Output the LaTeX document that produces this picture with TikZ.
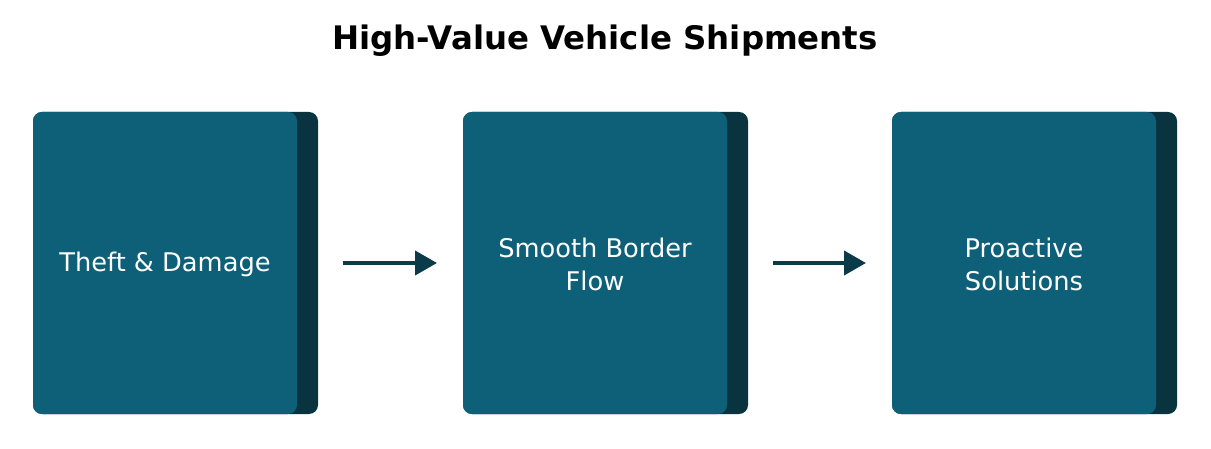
\documentclass[tikz,border=0pt]{standalone}
\usepackage{fontspec}
\setmainfont{DejaVu Sans}
\newfontfamily\titlefont{DejaVu Sans}
\usetikzlibrary{arrows.meta}
\definecolor{teal}{HTML}{0E5F78}
\definecolor{darkteal}{HTML}{0A3340}
\definecolor{arrowc}{HTML}{0B3A48}
\tikzset{
  x=1pt,y=-1pt,
  back/.style={fill=darkteal, rounded corners=9pt},
  front/.style={fill=teal, rounded corners=9pt},
  lbl/.style={text=white, font=\fontsize{25.7}{33}\selectfont, align=center},
  conn/.style={draw=arrowc, line width=4pt, -{Triangle[length=22pt,width=24pt]}}
}
\begin{document}
\begin{tikzpicture}
\useasboundingbox (0,0) rectangle (1211,449);
\node[font=\titlefont\bfseries\fontsize{32.4}{40}\selectfont] (title) at (605,41) {High-Value Vehicle Shipments};
\foreach \x/\n in {33/a,463/b,892/c}{
  \fill[back] (\x,112) rectangle ++(285,302);
  \fill[front] (\x,112) rectangle ++(264,302);
  \coordinate (\n) at ({\x+132},264);
  \coordinate (\n r) at ({\x+310},263);
  \coordinate (\n l) at ({\x-26},263);
}
\node[lbl] (t1) at (a) {Theft \& Damage};
\node[lbl] (t2) at (b) {Smooth Border\\Flow};
\node[lbl] (t3) at (c) {Proactive\\Solutions};
\draw[conn] (ar) -- (bl);
\draw[conn] (br) -- (cl);
\end{tikzpicture}
\end{document}
